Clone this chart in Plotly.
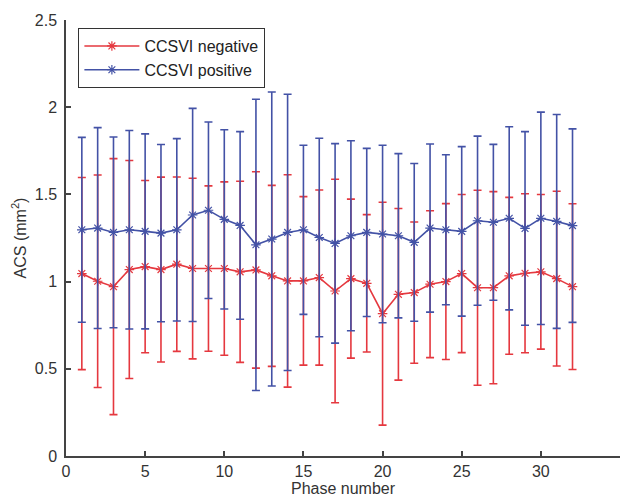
import plotly.graph_objects as go

phase = list(range(1, 33))

neg_mean = [1.046, 1.002, 0.971, 1.069, 1.086, 1.069, 1.100, 1.075, 1.075, 1.075, 1.056,
            1.067, 1.033, 1.004, 1.004, 1.023, 0.946, 1.017, 0.990, 0.816, 0.927, 0.937,
            0.985, 1.000, 1.046, 0.965, 0.965, 1.033, 1.048, 1.056, 1.017, 0.971]
neg_sd = [0.551, 0.609, 0.734, 0.625, 0.494, 0.530, 0.500, 0.518, 0.474, 0.497, 0.519,
          0.563, 0.519, 0.609, 0.483, 0.502, 0.641, 0.456, 0.394, 0.639, 0.492, 0.405,
          0.421, 0.447, 0.453, 0.559, 0.551, 0.450, 0.456, 0.443, 0.501, 0.475]

pos_mean = [1.297, 1.307, 1.282, 1.297, 1.288, 1.278, 1.297, 1.382, 1.409, 1.357, 1.322,
            1.211, 1.244, 1.282, 1.297, 1.253, 1.219, 1.263, 1.282, 1.273, 1.263, 1.225,
            1.307, 1.297, 1.288, 1.349, 1.340, 1.363, 1.305, 1.363, 1.345, 1.321]
pos_sd = [0.530, 0.576, 0.547, 0.569, 0.559, 0.508, 0.523, 0.611, 0.506, 0.514, 0.538,
          0.835, 0.843, 0.792, 0.485, 0.569, 0.572, 0.545, 0.482, 0.509, 0.471, 0.452,
          0.482, 0.430, 0.486, 0.485, 0.447, 0.525, 0.555, 0.609, 0.613, 0.555]

RED = "#e5383f"
BLUE = "#4352a6"

fig = go.Figure()
for name, mean, sd, col in [("CCSVI negative", neg_mean, neg_sd, RED),
                            ("CCSVI positive", pos_mean, pos_sd, BLUE)]:
    fig.add_trace(go.Scatter(
        x=phase, y=mean, name=name, mode="lines+markers",
        line=dict(color=col, width=1.6),
        marker=dict(symbol="asterisk-open", size=8, color=col, line=dict(color=col, width=1.2)),
        error_y=dict(type="data", array=sd, visible=True, color=col, thickness=1.6, width=4),
    ))

FONT = "Liberation Sans, Arial, sans-serif"
axis_font = dict(family=FONT, size=16, color="#333333")

fig.update_layout(
    width=628, height=500,
    margin=dict(l=66, r=8, t=20, b=44),
    paper_bgcolor="white", plot_bgcolor="white",
    font=axis_font,
    showlegend=True,
    legend=dict(x=0.022, y=0.982, xanchor="left", yanchor="top",
                bordercolor="#333333", borderwidth=1.2, bgcolor="white",
                font=dict(family=FONT, size=16, color="#222222"),
                tracegroupgap=0, itemwidth=55),
    xaxis=dict(range=[0, 35], tickvals=[0, 5, 10, 15, 20, 25, 30, 35],
               showgrid=False, zeroline=False, showline=True, linecolor="#444444", linewidth=1.5,
               ticks="inside", ticklen=5, tickcolor="#444444", tickwidth=1.5,
               tickfont=axis_font,
               title=dict(text="Phase number", standoff=2, font=axis_font),
               automargin=False),
    yaxis=dict(range=[0, 2.5], tickvals=[0, 0.5, 1, 1.5, 2, 2.5],
               ticktext=["0", "0.5", "1", "1.5", "2", "2.5"],
               showgrid=False, zeroline=False, showline=True, linecolor="#444444", linewidth=1.5,
               ticks="inside", ticklen=5, tickcolor="#444444", tickwidth=1.5,
               tickfont=axis_font, ticklabelstandoff=4,
               title=dict(text="ACS (mm<sup>2</sup>)", standoff=4, font=axis_font),
               automargin=False),
)

fig.write_html("out.html",
               config={"displayModeBar": False},
               post_script="document.body.style.margin='0';document.body.style.overflow='hidden';")
